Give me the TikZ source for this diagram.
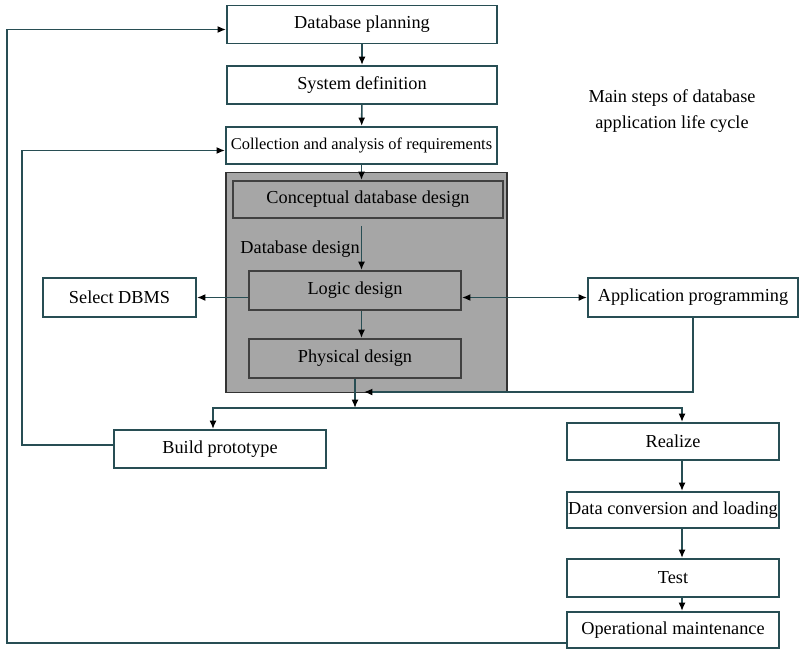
\documentclass[tikz,border=0pt]{standalone}
\usepackage{fontspec}
\setmainfont{Liberation Serif}
\usetikzlibrary{arrows.meta}
\usetikzlibrary{calc}

\definecolor{edge}{RGB}{40,78,84}
\definecolor{shade}{RGB}{166,166,166}

\begin{document}
\begin{tikzpicture}[x=0.025cm, y=-0.025cm,
	every node/.style={font=\fontsize{13}{15.5}\selectfont, inner sep=0pt},
	box/.style={draw=edge, line width=1.4pt, fill=white, minimum height=0.95cm},
	inbox/.style={draw=black!75, line width=1.4pt, fill=shade, minimum height=0.95cm},
	tip/.style={Latex[length=6pt,width=5pt,color=black]},
	arr/.style={draw=edge, line width=1.1pt, -{Latex[length=6pt,width=5pt,color=black]}}]
			\useasboundingbox (0,0) rectangle (799,650);
			% grey frame of the design phase
			\node (frame) [draw=black!80, line width=1.1pt, fill=shade, minimum width=7.025cm, minimum height=5.5cm] at (366.5,282.5) {};
			\node (plan) [box, minimum width=6.75cm] at (362,24.5) {Database planning};
			\node (sysdef) [box, minimum width=6.75cm] at (362,85) {System definition};
			\node (req) [box, minimum width=6.775cm, minimum height=0.925cm, font=\fontsize{11.7}{14}\selectfont] at (361.5,145.5) {Collection and analysis of requirements};
			\node (concept) [inbox, minimum width=6.75cm, minimum height=0.925cm] at (368,199.5) {Conceptual database design};
			\node (dblabel) [anchor=east] at (360,249) {Database design};
			\node (logic) [inbox, minimum width=5.3cm, minimum height=0.975cm] at (355,290.5) {Logic design};
			\node (phys) [inbox, minimum width=5.3cm, minimum height=0.975cm] at (355,358.5) {Physical design};
			\node (dbms) [box, minimum width=3.825cm, minimum height=0.975cm] at (119.5,297.5) {Select DBMS};
			\node (app) [box, minimum width=5.25cm, minimum height=0.975cm] at (693,297.5) {Application programming};
			\node (proto) [box, minimum width=5.3cm] at (220,449) {Build prototype};
			\node (realize) [box, minimum width=5.3cm, minimum height=0.925cm] at (673,441.5) {Realize};
			\node (conv) [box, minimum width=5.3cm, minimum height=0.9cm] at (673,510) {Data conversion and loading};
			\node (test) [box, minimum width=5.3cm] at (673,578) {Test};
			\node (maint) [box, minimum width=5.3cm, minimum height=0.9cm] at (673,630) {Operational maintenance};
			\node (title) [align=center] at (672,111) {Main steps of database\\[3pt]application life cycle};
			\coordinate (split) at (355,408);
			\coordinate (mergetip) at (364,392);
			\coordinate (lcol) at (213,0);
			\coordinate (rcol) at (682,0);
			\coordinate (outerleft) at (7,0);
			\coordinate (innerleft) at (22,0);
			\coordinate (mfoot) at ($(maint.south west)+(0,-6)$);
			\coordinate (pfoot) at ($(proto.west)+(0,-4)$);
			% main chain
			\draw[arr] (plan) -- (sysdef);
			\draw[arr] (sysdef) -- (req);
			\draw[arr] (req.south) -- (req.south |- concept.north);
			\draw[arr] ($(concept.south -| req.south)+(0,7)$) -- (req.south |- logic.north);
			\draw[arr] (req.south |- logic.south) -- (req.south |- phys.north);
			\draw[arr] (logic.west |- dbms.east) -- (dbms.east);
			\draw[arr, {Latex[length=6pt,width=5pt,color=black]}-{Latex[length=6pt,width=5pt,color=black]}] (logic.east |- app.west) -- (app.west);
			\draw[arr] (app.south) |- (mergetip);
			\draw[arr] (phys.south) -- (split);
			\draw[arr] (split) -| (lcol |- proto.north);
			\draw[arr] (split) -| (rcol |- realize.north);
			\draw[arr] (rcol |- realize.south) -- (rcol |- conv.north);
			\draw[arr] (rcol |- conv.south) -- (rcol |- test.north);
			\draw[arr] (rcol |- test.south) -- (rcol |- maint.north);
			% feedback loops
			\draw[arr] (mfoot) -- (mfoot -| outerleft) |- ($(plan.west)+(0,5)$);
			\draw[arr] (pfoot) -- (pfoot -| innerleft) |- ($(req.west)+(0,5)$);
		\end{tikzpicture}
\end{document}
